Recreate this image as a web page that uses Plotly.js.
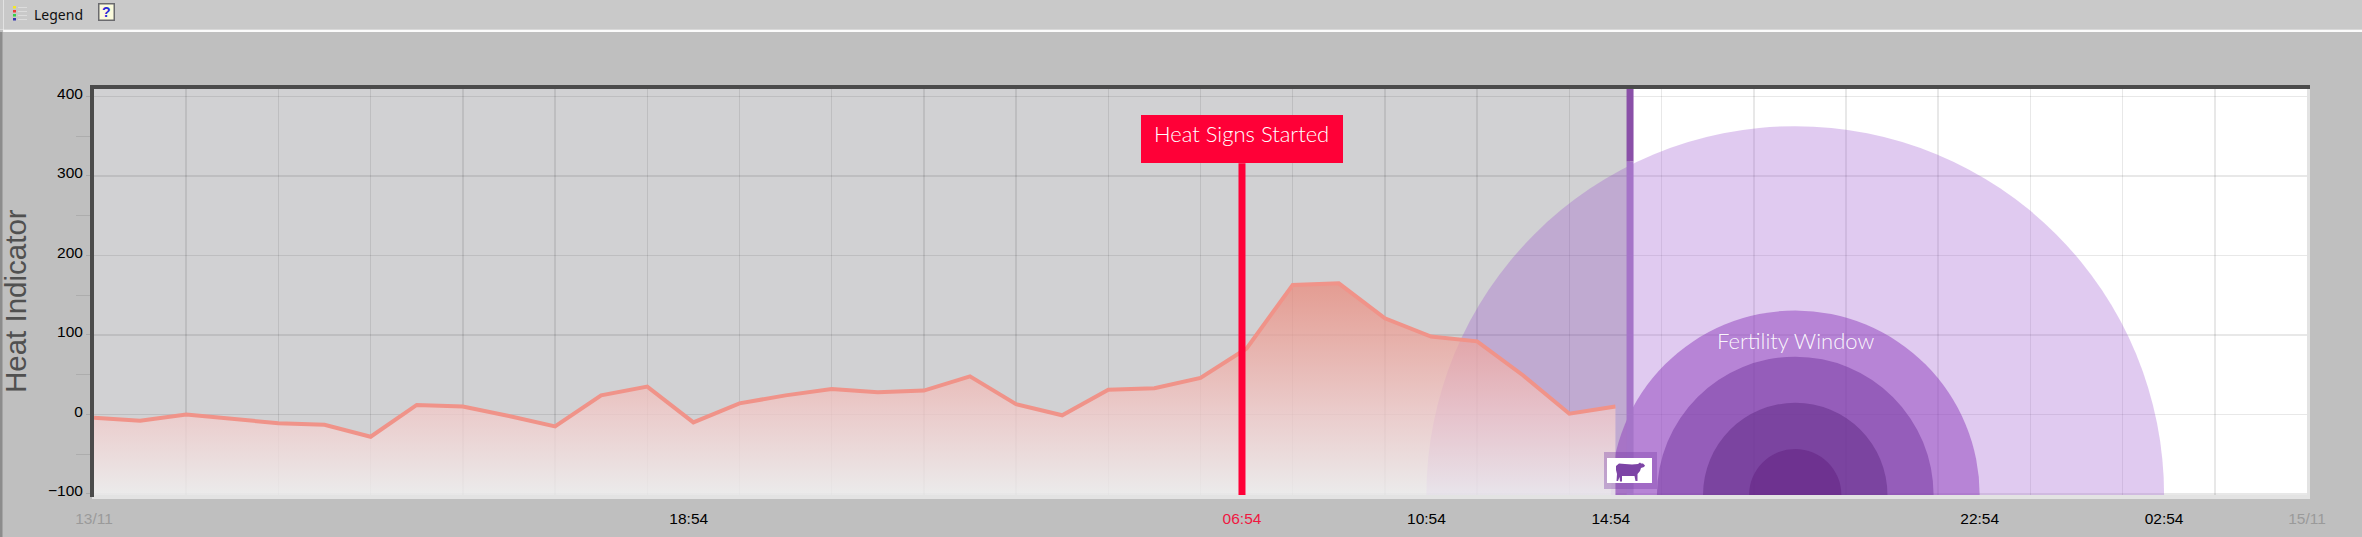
<!DOCTYPE html>
<html>
<head>
<meta charset="utf-8">
<script src="https://cdn.plot.ly/plotly-3.0.1.min.js"></script>
<style>html,body{margin:0;padding:0;background:#bfbfbf;overflow:hidden}#chart{width:2362px;height:537px}</style>
</head>
<body>
<div id="chart"></div>
<script>
// ---- data ----
var sampleTimes = [
 "2021-11-13 06:00","2021-11-13 07:00","2021-11-13 08:00","2021-11-13 09:00","2021-11-13 10:00","2021-11-13 11:00",
 "2021-11-13 12:00","2021-11-13 13:00","2021-11-13 14:00","2021-11-13 15:00","2021-11-13 16:00","2021-11-13 17:00",
 "2021-11-13 18:00","2021-11-13 19:00","2021-11-13 20:00","2021-11-13 21:00","2021-11-13 22:00","2021-11-13 23:00",
 "2021-11-14 00:00","2021-11-14 01:00","2021-11-14 02:00","2021-11-14 03:00","2021-11-14 04:00","2021-11-14 05:00",
 "2021-11-14 06:00","2021-11-14 07:00","2021-11-14 08:00","2021-11-14 09:00","2021-11-14 10:00","2021-11-14 11:00",
 "2021-11-14 12:00","2021-11-14 13:00","2021-11-14 14:00","2021-11-14 15:00"];
var heatValues = [-4,-8,0,-6,-11,-13,-28,12,10,-2,-15,24,35,-10,14,24,32,28,30,48,13,-1,31,33,46,83,163,165,121,98,92,49,1,10];

var tickTimes  = ["2021-11-13 06:00","2021-11-13 18:54","2021-11-14 06:54","2021-11-14 10:54","2021-11-14 14:54","2021-11-14 22:54","2021-11-15 02:54","2021-11-15 06:00"];
var tickLabels = ["13/11","18:54","06:54","10:54","14:54","22:54","02:54","15/11"];
var tickColors = ["#9a9a9a","#000000","#f0173f","#000000","#000000","#000000","#000000","#9a9a9a"];

var xRange = ["2021-11-13 06:00","2021-11-15 06:00"];
var yRange = [-101.3,409.4];
var heatSignsTime = "2021-11-14 06:54";
var heatSignsTop = 316;
var inseminationTime = "2021-11-14 15:19";
var inseminationBreaks = [409.4,318,-101.3];
var fertilityCentre = "2021-11-14 18:54";
var fertilityHours = [8,4,3,2,1];
var fertilityColors = ["rgba(152,78,205,0.30)","rgba(141,62,188,0.5)","rgba(115,54,158,0.5)","rgba(97,43,134,0.5)","rgba(97,32,128,0.5)"];
var unitsPerHour = 58;

// ---- helpers ----
var W=2362,H=537,L=94,R=2307,T=89,B=495;
function px(x){return (x-L)/(R-L);}
function py(y){return (B-y)/(B-T);}
function box(x0,y0,x1,y1,fill,layer){return {type:'rect',xref:'paper',yref:'paper',x0:px(x0),x1:px(x1),y0:py(y0),y1:py(y1),fillcolor:fill,line:{width:0},layer:layer||'above'};}
function shift(t,h){var ms=Date.parse(t.replace(' ','T')+':00Z')+h*3600000;return new Date(ms).toISOString().slice(0,19).replace('T',' ');}

// ---- traces ----
var baseline = sampleTimes.map(function(){return yRange[0];});
var traces = [
 {x:sampleTimes,y:baseline,mode:'lines',line:{width:0},hoverinfo:'skip',showlegend:false},
 {x:sampleTimes,y:heatValues,mode:'lines',name:'Heat Indicator',fill:'tonexty',
  line:{color:'#f09389',width:4},
  fillgradient:{type:'vertical',start:yRange[0],stop:165,
    colorscale:[[0,'rgba(241,241,241,0.82)'],[0.38,'rgba(243,203,202,0.75)'],[1,'rgba(235,136,121,0.72)']]},
  showlegend:false},
 {x:[heatSignsTime,heatSignsTime],y:[yRange[0],heatSignsTop],mode:'lines',line:{color:'#ff0037',width:7},name:'Heat Signs Started',showlegend:false},
 {x:[inseminationTime,inseminationTime],y:[inseminationBreaks[0],inseminationBreaks[1]],mode:'lines',line:{color:'#8a50a8',width:7},showlegend:false},
 {x:[inseminationTime,inseminationTime],y:[inseminationBreaks[1],inseminationBreaks[2]],mode:'lines',line:{color:'#a574c8',width:7},showlegend:false}
];

// ---- shapes ----
var shapes = [
 {type:'rect',xref:'x',yref:'paper',x0:xRange[0],x1:inseminationTime,y0:0,y1:1,fillcolor:'#d1d1d3',line:{width:0},layer:'below'}
];
fertilityHours.forEach(function(h,i){
 shapes.push({type:'circle',xref:'x',yref:'y',x0:shift(fertilityCentre,-h),x1:shift(fertilityCentre,h),
   y0:yRange[0]-h*unitsPerHour,y1:yRange[0]+h*unitsPerHour,fillcolor:fertilityColors[i],line:{width:0},layer:'between'});
});
// toolbar and window chrome
shapes.push(box(0,0,W,29,'#c9c9c9','below'));
shapes.push(box(0,29,W,30,'#d9d9d9','below'));
shapes.push(box(3,30,W,32,'#fbfbfb','below'));
shapes.push(box(3,0,3.6,32,'#f4f4f4','below'));
shapes.push(box(0,32,2.5,H,'#8c8c8c','below'));
// bevelled frame
shapes.push(box(92,495,2310,499,'#e3e3e3'));
shapes.push(box(2307,86,2310,499,'#e3e3e3'));
shapes.push(box(90,85,2310,89,'#4b4b4b'));
shapes.push(box(90,85,94,497,'#4b4b4b'));
// label box
shapes.push(box(1141,115,1343,163,'#ff0037'));
// legend icon
[['#f2e62a',7],['#ee3a3a',11],['#35d04a',15],['#3535b0',19]].forEach(function(d){
 shapes.push(box(13,d[1]-1,16,d[1]+1.5,d[0]));
 shapes.push(box(18,d[1],27,d[1]+1,'#dcdcdc'));
});
// help icon
shapes.push(box(98,3,115,21,'#6a6a6e'));
shapes.push(box(99.5,4.5,113.5,19.5,'#fbfbdc'));
// cow badge
shapes.push(box(1604,452,1657,489,'rgba(122,60,165,0.36)'));
shapes.push(box(1607,458,1652,483,'#ffffff'));
var cow=[[1616,466],[1619,463.5],[1625,464],[1632,464.5],[1638,464],[1640,462.5],[1641,463.5],[1643,463.5],[1645,465.5],[1644,467],[1641,468],
 [1640,471],[1637.5,474],[1637.5,481],[1635.5,481],[1634.5,476],[1627,476],[1622,476],[1622,481.5],[1620,481.5],[1619.5,477],[1618,481],[1616.5,481],[1617,474],[1616,470]];
shapes.push({type:'path',xref:'paper',yref:'paper',layer:'above',fillcolor:'#7d44a6',line:{width:0},
 path:cow.map(function(p,i){return (i?'L':'M')+px(p[0])+','+py(p[1]);}).join(' ')+' Z'});

// ---- annotations ----
var annotations = [
 {xref:'x',yref:'y',x:heatSignsTime,y:353,text:'Heat Signs Started',showarrow:false,
  font:{family:'"Lato Light", Lato, "Open Sans", sans-serif',size:22,color:'#ffffff'},xanchor:'center',yanchor:'middle'},
 {xref:'x',yref:'y',x:fertilityCentre,y:92.6,text:'Fertility Window',showarrow:false,
  font:{family:'"Lato Light", Lato, "Open Sans", sans-serif',size:22,color:'rgba(255,255,255,0.95)'},xanchor:'center',yanchor:'middle'},
 {xref:'paper',yref:'paper',x:px(15),y:py(301),text:'Heat Indicator',showarrow:false,textangle:-90,
  font:{family:'"Liberation Sans", Arial, sans-serif',size:29.5,color:'#505050'},xanchor:'center',yanchor:'middle'},
 {xref:'paper',yref:'paper',x:px(58),y:py(14),text:'Legend',showarrow:false,
  font:{family:'"Noto Sans", sans-serif',size:14,color:'#101010'},xanchor:'center',yanchor:'middle'},
 {xref:'paper',yref:'paper',x:px(106.5),y:py(12),text:'<b>?</b>',showarrow:false,
  font:{family:'"Liberation Sans", sans-serif',size:14,color:'#2a2ad8'},xanchor:'center',yanchor:'middle'}
];

var layout = {
 width:W,height:H,
 margin:{l:L,r:W-R,t:T,b:H-B,pad:0},
 paper_bgcolor:'#bfbfbf',plot_bgcolor:'#ffffff',
 showlegend:false,
 xaxis:{type:'date',range:xRange,tickmode:'array',tickvals:tickTimes,
   ticktext:tickLabels.map(function(t,i){return '<span style="color:'+tickColors[i]+'">'+t+'</span>';}),
   showgrid:false,zeroline:false,showline:false,ticks:'outside',ticklen:9,tickcolor:'rgba(0,0,0,0)',
   tickangle:0,tickfont:{family:'"Liberation Sans", Arial, sans-serif',size:15.5,color:'#000'},
   minor:{dtick:7200000,tick0:xRange[0],showgrid:true,gridcolor:'rgba(0,0,0,0.09)',gridwidth:1.5,ticks:''}},
 yaxis:{range:yRange,tickmode:'array',tickvals:[-100,0,100,200,300,400],
   showgrid:true,gridcolor:'rgba(0,0,0,0.09)',gridwidth:1.5,zeroline:false,showline:false,
   ticks:'outside',ticklen:7,tickcolor:'#a8a8a8',tickwidth:1,ticklabelshift:-3,
   tickfont:{family:'"Liberation Sans", Arial, sans-serif',size:15.5,color:'#000'},
   minor:{tickvals:[-50,50,150,250,350],ticks:'outside',ticklen:17,tickcolor:'#adadad',tickwidth:1,showgrid:false}},
 shapes:shapes,annotations:annotations
};
Plotly.newPlot('chart',traces,layout,{displayModeBar:false,staticPlot:true});
</script>
</body>
</html>
